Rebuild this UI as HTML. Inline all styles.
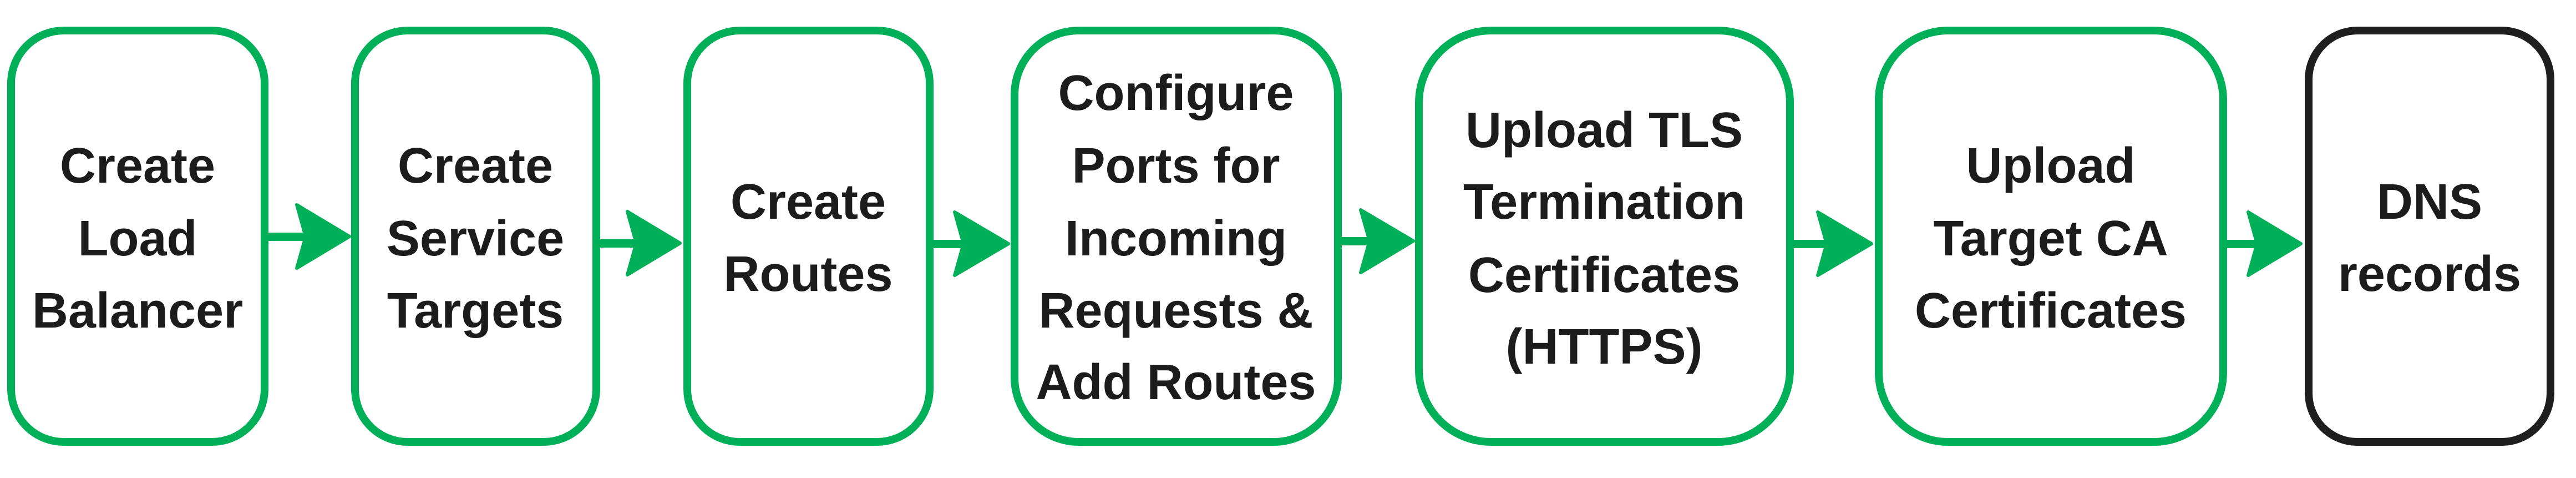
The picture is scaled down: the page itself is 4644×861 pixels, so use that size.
<!DOCTYPE html>
<html><head><meta charset="utf-8"><style>
html,body{margin:0;padding:0;background:#fff;width:4644px;height:861px;overflow:hidden}
text{font-family:"Liberation Sans",sans-serif;font-weight:bold;font-size:90px;fill:#1c1c1c;text-anchor:middle}
</style></head><body>
<svg width="4644" height="861" viewBox="0 0 4644 861" xmlns="http://www.w3.org/2000/svg">
<g fill="none" stroke="#00b058" stroke-width="14">
<rect x="20" y="55" width="457" height="741" rx="95" ry="95"/>
<rect x="640" y="55" width="435" height="741" rx="95" ry="95"/>
<rect x="1239" y="55" width="437" height="741" rx="95" ry="95"/>
<rect x="1829" y="55" width="583" height="741" rx="116" ry="116"/>
<rect x="2558" y="55" width="669" height="741" rx="130" ry="130"/>
<rect x="3387" y="55" width="621" height="741" rx="125" ry="125"/>
</g>
<rect x="4162" y="55" width="436" height="741" rx="88" ry="88" fill="none" stroke="#1f1f1f" stroke-width="14"/>
<g fill="#00b058" stroke="#00b058" stroke-linejoin="round" stroke-width="6">
<rect x="484" y="419" width="70" height="15" stroke="none"/>
<polygon points="535,369 630,426 535,483 551,426"/>
<rect x="1082" y="431" width="70" height="15" stroke="none"/>
<polygon points="1131,381 1226,438 1131,495 1147,438"/>
<rect x="1683" y="432" width="56" height="15" stroke="none"/>
<polygon points="1721,382 1818,439 1721,496 1737,439"/>
<rect x="2419" y="427" width="53" height="15" stroke="none"/>
<polygon points="2453,378 2548,434 2453,491 2469,434"/>
<rect x="3234" y="432" width="57" height="15" stroke="none"/>
<polygon points="3277,382 3374,439 3277,496 3293,439"/>
<rect x="4008" y="432" width="61" height="15" stroke="none"/>
<polygon points="4053,382 4148,439 4053,496 4069,439"/>
</g>
<text x="248" y="329">Create</text>
<text x="248" y="460">Load</text>
<text x="248" y="590">Balancer</text>
<text x="857" y="329">Create</text>
<text x="857" y="460">Service</text>
<text x="857" y="590">Targets</text>
<text x="1457" y="394">Create</text>
<text x="1457" y="524">Routes</text>
<text x="2120" y="198">Configure</text>
<text x="2120" y="329">Ports for</text>
<text x="2120" y="460">Incoming</text>
<text x="2120" y="590">Requests &amp;</text>
<text x="2120" y="719">Add Routes</text>
<text x="2892" y="265">Upload TLS</text>
<text x="2892" y="394">Termination</text>
<text x="2892" y="526">Certificates</text>
<text x="2892" y="655">(HTTPS)</text>
<text x="3697" y="329">Upload</text>
<text x="3697" y="460">Target CA</text>
<text x="3697" y="590">Certificates</text>
<text x="4380" y="394">DNS</text>
<text x="4380" y="524">records</text>
</svg>
</body></html>
